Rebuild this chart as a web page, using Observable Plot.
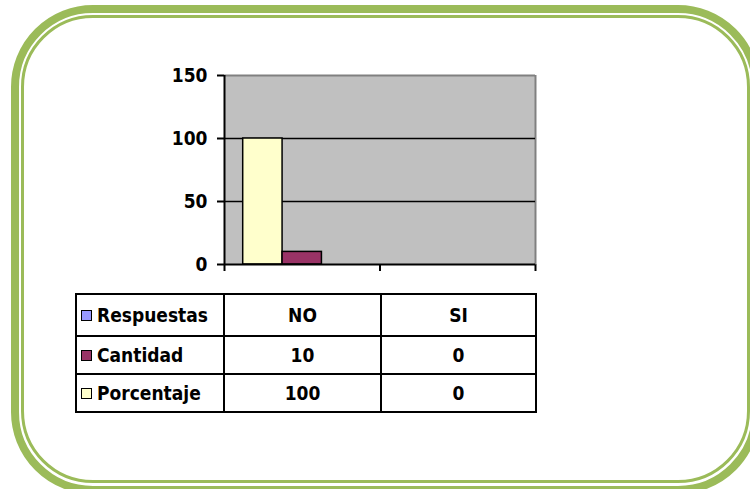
<!DOCTYPE html>
<html>
<head>
<meta charset="utf-8">
<script src="https://cdn.jsdelivr.net/npm/d3@7"></script>
<script src="https://cdn.jsdelivr.net/npm/@observablehq/plot@0.6"></script>
<style>
  html, body { margin: 0; padding: 0; background: #fff; width: 750px; height: 489px; overflow: hidden; position: relative; }
  #chart { position: absolute; left: 0; top: 0; }
  .frame-outer { position: absolute; left: 11px; top: 4.5px; width: 749px; height: 489.5px; box-sizing: border-box;
    border: 8.5px solid #9bbb59; border-radius: 82px; pointer-events: none; }
  .frame-inner { position: absolute; left: 21px; top: 14.7px; width: 729px; height: 468.3px; box-sizing: border-box;
    border: 3px solid #9bbb59; border-radius: 72px; pointer-events: none; }
  table.dt { position: absolute; left: 75px; top: 293px; border-collapse: collapse; table-layout: fixed;
    font-family: "DejaVu Sans Condensed", "DejaVu Sans", sans-serif; font-stretch: condensed; font-weight: bold;
    font-size: 19px; color: #000; }
  table.dt td { border: 2px solid #000; padding: 0; text-align: center; white-space: nowrap; }
  table.dt td.lab { text-align: left; padding-left: 4px; }
  table.dt .key { display: inline-block; width: 9px; height: 9px; border: 1.5px solid #000; margin-right: 5px; vertical-align: 1px; }
  #chart [aria-label$="axis tick"] path, #chart [aria-label$="axis tick"] line, #chart .tick line { stroke-width: 2px; }
</style>
</head>
<body>
<div id="chart"></div>
<div class="frame-outer"></div>
<div class="frame-inner"></div>
<script>
// ---- data ----
const categories = ["NO", "SI"];
const seriesNames = ["Respuestas", "Cantidad", "Porcentaje"];
const seriesColors = ["#9999ff", "#993366", "#ffffcc"];
const cantidad = [10, 0];
const porcentaje = [100, 0];
const yTicks = [0, 50, 100, 150];
// Excel draws the bars inside a group in reverse series order
const barOrder = ["Porcentaje", "Cantidad", "Respuestas"];
const gapWidth = 0.95; // Excel "gap width" as a fraction of a bar

const seriesValues = { Cantidad: cantidad, Porcentaje: porcentaje };

// clustered layout: each category occupies [i, i+1] on a linear x scale
const barW = 1 / (barOrder.length + gapWidth);
const bars = [];
categories.forEach((cat, i) => {
  barOrder.forEach((s, k) => {
    const vals = seriesValues[s];
    if (!vals) return;
    const v = vals[i];
    if (!(v > 0)) return;
    const x1 = i + (gapWidth / 2 + k) * barW;
    bars.push({ category: cat, series: s, value: v, x1, x2: x1 + barW });
  });
});

const FONT = '"DejaVu Sans Condensed", "DejaVu Sans", sans-serif';

const chart = Plot.plot({
  width: 750,
  height: 290,
  marginTop: 75,
  marginBottom: 26,
  marginLeft: 224,
  marginRight: 215,
  style: { background: "transparent", fontFamily: FONT, fontSize: "19px", fontWeight: "bold", color: "#000", overflow: "visible", fontStretch: "condensed" },
  x: { type: "linear", domain: [0, categories.length], ticks: d3.range(categories.length + 1), tickFormat: () => "", tickSize: 7, label: null },
  y: { domain: [0, 150], ticks: yTicks, tickSize: 7, tickPadding: 10, label: null, tickFormat: d => String(d) },
  color: { domain: seriesNames, range: seriesColors },
  marks: [
    Plot.frame({ fill: "#c0c0c0", stroke: null }),
    Plot.ruleY([yTicks[yTicks.length - 1]], { stroke: "#808080", strokeWidth: 2 }),
    Plot.ruleX([categories.length], { stroke: "#808080", strokeWidth: 2 }),
    Plot.ruleY(yTicks.slice(1, -1), { stroke: "#000", strokeWidth: 1.5 }),
    Plot.rect(bars, { x1: "x1", x2: "x2", y1: 0, y2: "value", fill: "series", stroke: "#000", strokeWidth: 1.5 }),
    Plot.ruleX([0], { stroke: "#000", strokeWidth: 2 }),
    Plot.ruleY([0], { stroke: "#000", strokeWidth: 2 })
  ]
});
document.getElementById("chart").appendChild(chart);

// ---- data table under the chart ----
const table = document.createElement("table");
table.className = "dt";
const colWidths = [148, 157, 155];
const cg = document.createElement("colgroup");
colWidths.forEach(w => { const c = document.createElement("col"); c.style.width = w + "px"; cg.appendChild(c); });
table.appendChild(cg);
const rowHeights = [42, 38, 38];
const rowCells = {
  Respuestas: categories,
  Cantidad: cantidad.map(String),
  Porcentaje: porcentaje.map(String)
};
seriesNames.forEach((s, r) => {
  const tr = document.createElement("tr");
  tr.style.height = rowHeights[r] + "px";
  const th = document.createElement("td");
  th.className = "lab";
  const key = document.createElement("span");
  key.className = "key";
  key.style.background = seriesColors[r];
  th.appendChild(key);
  th.appendChild(document.createTextNode(s));
  tr.appendChild(th);
  rowCells[s].forEach(v => {
    const td = document.createElement("td");
    td.textContent = v;
    tr.appendChild(td);
  });
  table.appendChild(tr);
});
document.body.appendChild(table);
</script>
</body>
</html>
